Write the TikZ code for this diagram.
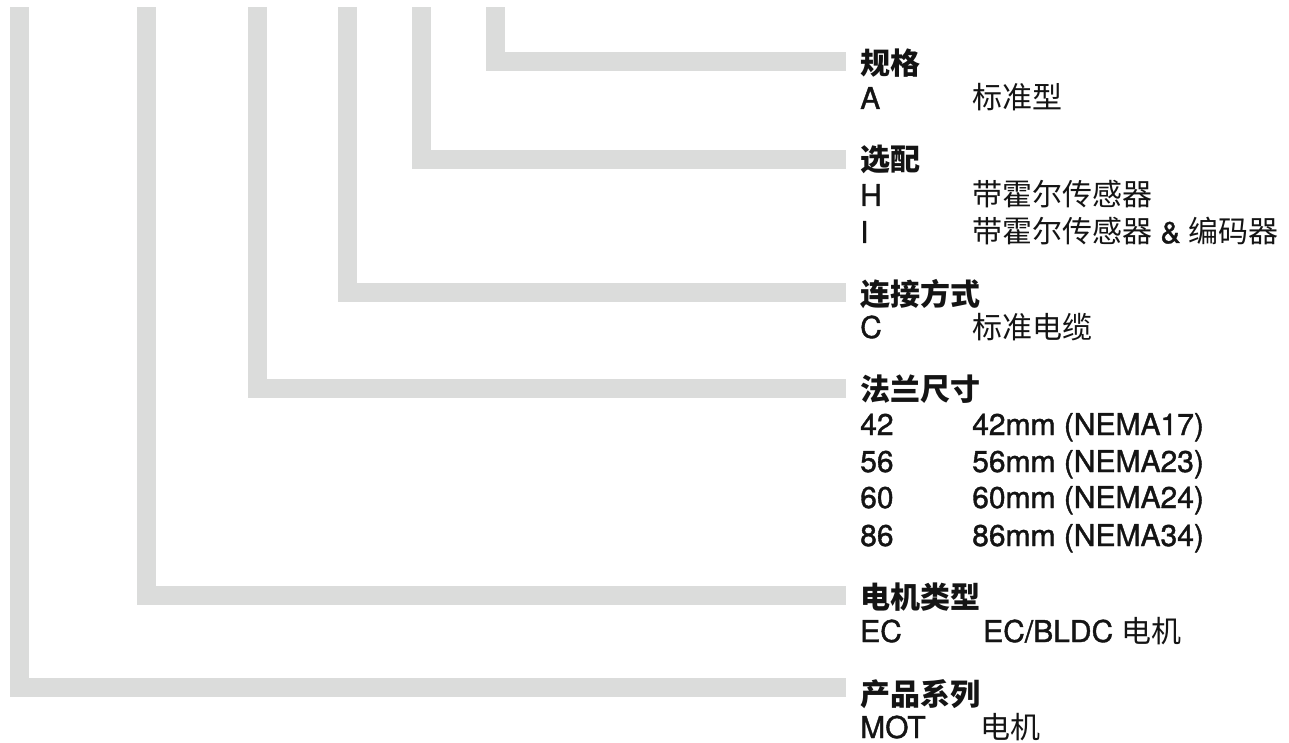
\documentclass[tikz,border=0pt]{standalone}
\usepackage{fontspec}
\setmainfont{TeX Gyre Heros}[FakeBold=1.3]
\newfontfamily\zhfont{Noto Sans CJK SC}
\definecolor{bargray}{RGB}{219,220,219}
\definecolor{txt}{RGB}{20,20,20}
\begin{document}
\begin{tikzpicture}[x=1pt,y=-1pt,
  bar/.style={draw=bargray,line width=19pt,line cap=butt,line join=miter},
  lbl/.style={inner sep=0pt,anchor=base west,text=txt,font=\fontsize{30}{36}\selectfont},
  hdr/.style={lbl,font=\fontsize{30}{36}\selectfont\zhfont\bfseries}]
\useasboundingbox (0,0) rectangle (1289,743);
% connector ends
\coordinate (t1) at (19.5,7.5);  \coordinate (e1) at (846,687.5);
\coordinate (t2) at (146.5,7.5); \coordinate (e2) at (846,595.5);
\coordinate (t3) at (257.5,7.5); \coordinate (e3) at (846,388.5);
\coordinate (t4) at (347.5,7.5); \coordinate (e4) at (846,292.5);
\coordinate (t5) at (421.5,7.5); \coordinate (e5) at (846,159.5);
\coordinate (t6) at (495.5,7.5); \coordinate (e6) at (846,61.5);
\draw[bar] (t1) |- (e1);
\draw[bar] (t2) |- (e2);
\draw[bar] (t3) |- (e3);
\draw[bar] (t4) |- (e4);
\draw[bar] (t5) |- (e5);
\draw[bar] (t6) |- (e6);
% 规格
\node[hdr] (h6) at (860,75) {规格};
\node[lbl] (a6) at (860,109) {A};
\node[lbl] (b6) at (972,109) {\zhfont 标准型};
% 选配
\node[hdr] (h5) at (860,171) {选配};
\node[lbl] (a5) at (860,206) {H};
\node[lbl] (b5) at (972,206) {\zhfont 带霍尔传感器};
\node[lbl] (c5) at (860,243) {I};
\node[lbl] (d5) at (972,243) {{\zhfont 带霍尔传感器} \& {\zhfont 编码器}};
% 连接方式
\node[hdr] (h4) at (860,305) {连接方式};
\node[lbl] (a4) at (860,338) {C};
\node[lbl] (b4) at (972,338) {\zhfont 标准电缆};
% 法兰尺寸
\node[hdr] (h3) at (860,400) {法兰尺寸};
\node[lbl] (a3) at (860,435) {42};
\node[lbl] (b3) at (972,435) {42mm (NEMA17)};
\node[lbl] (c3) at (860,472) {56};
\node[lbl] (d3) at (972,472) {56mm (NEMA23)};
\node[lbl] (f3) at (860,508) {60};
\node[lbl] (g3) at (972,508) {60mm (NEMA24)};
\node[lbl] (i3) at (860,546) {86};
\node[lbl] (j3) at (972,546) {86mm (NEMA34)};
% 电机类型
\node[hdr] (h2) at (860,608) {电机类型};
\node[lbl] (a2) at (860,642) {EC};
\node[lbl] (b2) at (983,642) {EC/BLDC {\zhfont 电机}};
% 产品系列
\node[hdr] (h1) at (860,705) {产品系列};
\node[lbl] (a1) at (860,738) {MOT};
\node[lbl] (b1) at (980,738) {\zhfont 电机};
\end{tikzpicture}
\end{document}
